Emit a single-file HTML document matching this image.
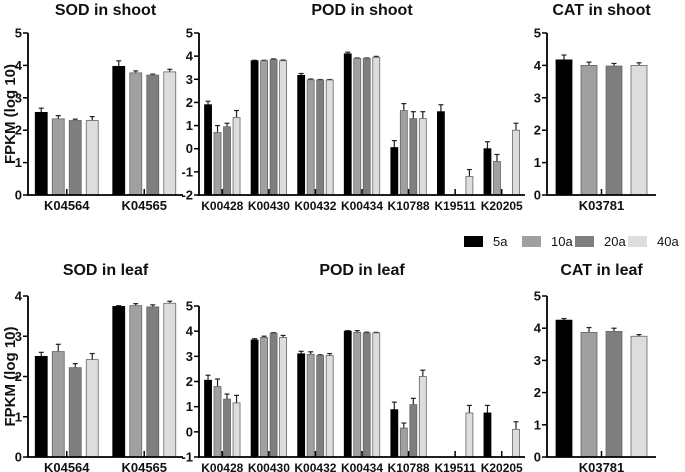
<!DOCTYPE html>
<html><head><meta charset="utf-8"><style>
body{margin:0;background:#fff;}
svg{display:block;font-family:"Liberation Sans",Arial,sans-serif;font-weight:bold;}
</style></head><body>
<svg id="c" width="685" height="472" viewBox="0 0 685 472"></svg>
<script>
const series = ["5a","10a","20a","40a"];
const colors = ["#000000","#a0a0a0","#7f7f7f","#dddddd"];
const sodCats = ["K04564","K04565"];
const podCats = ["K00428","K00430","K00432","K00434","K10788","K19511","K20205"];
const catCats = ["K03781"];
const sodShootVals = [[2.55,2.35,2.3,2.3],[3.97,3.77,3.7,3.8]];
const sodShootErr = [[0.13,0.1,0.04,0.12],[0.17,0.06,0.03,0.08]];
const podShootVals = [[1.9,0.7,0.95,1.35],[3.8,3.8,3.85,3.8],[3.17,2.98,2.97,2.97],[4.1,3.9,3.9,3.95],[0.05,1.65,1.3,1.3],[1.6,null,null,-1.2],[0.0,-0.55,null,0.8]];
const podShootErr = [[0.15,0.3,0.15,0.3],[0.02,0.02,0.03,0.03],[0.08,0.03,0.02,0.02],[0.07,0.02,0.02,0.04],[0.3,0.3,0.3,0.3],[0.3,0,0,0.3],[0.3,0.3,0,0.3]];
const catShootVals = [[4.17,4.0,3.98,4.0]];
const catShootErr = [[0.15,0.1,0.08,0.08]];
const sodLeafVals = [[2.5,2.62,2.22,2.42],[3.74,3.76,3.73,3.82]];
const sodLeafErr = [[0.1,0.18,0.1,0.15],[0.02,0.05,0.05,0.05]];
const podLeafVals = [[2.05,1.8,1.3,1.15],[3.65,3.75,3.92,3.75],[3.1,3.08,3.03,3.03],[4.0,3.95,3.93,3.93],[0.88,0.15,1.08,2.2],[null,null,null,0.75],[0.75,null,null,0.1]];
const podLeafErr = [[0.2,0.3,0.2,0.3],[0.05,0.05,0.02,0.08],[0.1,0.1,0.03,0.08],[0.02,0.07,0.03,0.02],[0.3,0.2,0.25,0.25],[0,0,0,0.3],[0.3,0,0,0.3]];
const catLeafVals = [[4.25,3.87,3.9,3.75]];
const catLeafErr = [[0.05,0.15,0.1,0.05]];
const sodShootTicks = [0,1,2,3,4,5];
const podShootTicks = [-2,-1,0,1,2,3,4,5];
const catTicks = [0,1,2,3,4,5];
const sodLeafTicks = [0,1,2,3,4];
const podLeafTicks = [-1,0,1,2,3,4,5];

const NS="http://www.w3.org/2000/svg";
const svg=document.getElementById('c');
function mk(tag,attrs,parent,text){const e=document.createElementNS(NS,tag);for(const k in attrs)e.setAttribute(k,attrs[k]);if(text!==undefined)e.textContent=text;(parent||svg).appendChild(e);return e;}

function panel(o){
  const g=mk('g',{});
  
  
  const ymin=o.ticks[0], ymax=o.ticks[o.ticks.length-1];
  const y=v=>o.y0-(v-ymin)/(ymax-ymin)*(o.y0-o.y1);
  const n=o.cats.length, gw=(o.x1-o.x0)/n;
  const gx=i=>o.x0+gw*(i+0.5);
  const t=mk('text',{x:(o.x0+o.x1)/2,y:o.ty,'text-anchor':'middle','font-size':16,fill:'#111'},g,o.title);
  
  
  o.cats.forEach((c,i)=>{
    o.vals[i].forEach((v,j)=>{
      if(v===null)return;
      const cx=gx(i)+(j-1.5)*o.step;
      const top=y(v), e=o.errs[i][j];
      const et=y(v+e);
      const el=mk('line',{x1:cx,x2:cx,y1:top,y2:et,stroke:'#222','stroke-width':1.2},g);
      
      
      const cap=mk('line',{x1:cx-2.5,x2:cx+2.5,y1:et,y2:et,stroke:'#222','stroke-width':1.2},g);
      
      
      const r=mk('rect',{x:cx-o.bw/2,y:top,width:o.bw,height:o.y0-top,fill:colors[j],stroke:j===0?'#000':'#666','stroke-width':0.8},g);
      
      
    });
    const tk=mk('line',{x1:gx(i),x2:gx(i),y1:o.y0,y2:o.y0-6,stroke:'#000','stroke-width':1.5},g);
    
    
    const lb=mk('text',{x:gx(i),y:o.y0+15,'text-anchor':'middle','font-size':o.lfs||13,fill:'#111'},g,c);
    
    
  });
  const ax=mk('path',{d:`M${o.x0},${o.y1} V${o.y0} H${o.x1}`,fill:'none',stroke:'#000','stroke-width':1.8},g);
  
  
  o.ticks.forEach(v=>{
    const l=mk('line',{x1:o.x0-5,x2:o.x0,y1:y(v),y2:y(v),stroke:'#000','stroke-width':1.5},g);
    
    
    const tl=mk('text',{x:o.x0-6,y:y(v)+4.5,'text-anchor':'end','font-size':13,fill:'#111'},g,String(v));
    
    
  });
  if(o.ylab){
    const yl=mk('text',{x:0,y:0,'text-anchor':'middle','font-size':15,fill:'#111',transform:`translate(15,${(o.y0+o.y1)/2}) rotate(-90)`},g,'FPKM (log 10)');
    
    
  }
}
panel({name:'sod-shoot-panel',title:'SOD in shoot',ty:15,x0:28,x1:183,y0:195,y1:33,ticks:sodShootTicks,cats:sodCats,vals:sodShootVals,errs:sodShootErr,bw:12,step:17,ylab:true});
panel({name:'pod-shoot-panel',title:'POD in shoot',ty:15,x0:199,x1:525,y0:195,y1:33,ticks:podShootTicks,cats:podCats,vals:podShootVals,errs:podShootErr,bw:7,step:9.5,lfs:12});
panel({name:'cat-shoot-panel',title:'CAT in shoot',ty:15,x0:547,x1:656,y0:195,y1:33,ticks:catTicks,cats:catCats,vals:catShootVals,errs:catShootErr,bw:16,step:25});
panel({name:'sod-leaf-panel',title:'SOD in leaf',ty:275,x0:28,x1:183,y0:457,y1:296,ticks:sodLeafTicks,cats:sodCats,vals:sodLeafVals,errs:sodLeafErr,bw:12,step:17,ylab:true});
panel({name:'pod-leaf-panel',title:'POD in leaf',ty:275,x0:199,x1:525,y0:457,y1:306,ticks:podLeafTicks,cats:podCats,vals:podLeafVals,errs:podLeafErr,bw:7,step:9.5,lfs:12});
panel({name:'cat-leaf-panel',title:'CAT in leaf',ty:275,x0:547,x1:656,y0:457,y1:296,ticks:catTicks,cats:catCats,vals:catLeafVals,errs:catLeafErr,bw:16,step:25});

const lg=mk('g',{});


const lx=[464,522,575,628];
series.forEach((s,i)=>{
  const r=mk('rect',{x:lx[i],y:236,width:19,height:11,fill:colors[i]},lg);
  
  
  const t=mk('text',{x:lx[i]+29,y:246,'font-size':13,'font-weight':'normal',fill:'#111'},lg,s);
  
  
});
</script>
</body></html>
